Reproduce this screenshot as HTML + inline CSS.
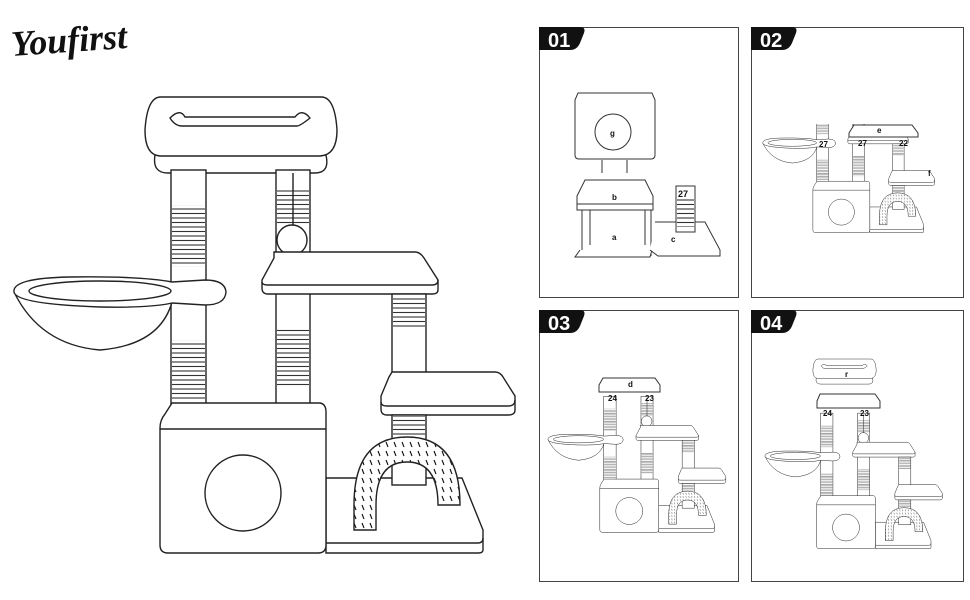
<!DOCTYPE html>
<html><head><meta charset="utf-8"><style>
html,body{margin:0;padding:0;background:#fff;}
svg{display:block}
</style></head><body>
<svg width="970" height="600" viewBox="0 0 970 600" xmlns="http://www.w3.org/2000/svg">
<defs>
<pattern id="bands" width="6" height="4.5" patternUnits="userSpaceOnUse">
<rect width="6" height="4.5" fill="#fff"/><line x1="0" y1="2" x2="6" y2="2" stroke="#333" stroke-width="1.1"/>
</pattern>
<pattern id="bristle" width="8" height="9" patternUnits="userSpaceOnUse">
<rect width="8" height="9" fill="#fff"/><line x1="2" y1="1" x2="4" y2="6" stroke="#111" stroke-width="1.1"/>
</pattern>
<clipPath id="c2"><rect x="752" y="124" width="211" height="173"/></clipPath>
<g id="bed" fill="#fff" stroke="#222" stroke-width="1.4">
<path d="M155 155 L326 155 Q330 173 315 173 L168 173 Q152 173 155 155Z"/>
<path d="M160 97 L322 97 Q335 98 337 130 Q337 155 320 156 L160 156 Q145 155 145 130 Q147 98 160 97Z"/>
<path d="M170 118 Q180 108 185 117 L295 117 Q302 108 310 118 Q300 126 297 126 L182 126 Q175 126 170 118Z"/>
</g>
<g id="body" fill="#fff" stroke="#222" stroke-width="1.4">
<rect x="171" y="170" width="35" height="245"/>
<rect x="172" y="205" width="33" height="62" fill="url(#bands)" stroke="none"/>
<rect x="172" y="340" width="33" height="60" fill="url(#bands)" stroke="none"/>
<rect x="276" y="170" width="34" height="245"/>
<rect x="277" y="190" width="32" height="35" fill="url(#bands)" stroke="none"/>
<rect x="277" y="328" width="32" height="60" fill="url(#bands)" stroke="none"/>
<line x1="293" y1="173" x2="293" y2="230"/>
<circle cx="292" cy="240" r="15"/>
<path d="M14 292 Q40 345 100 350 Q160 345 172 302"/>
<path d="M14 292 Q12 278 70 277 Q140 276 172 282 L205 280 Q225 280 226 292 Q225 305 205 305 L172 303 Q150 308 100 307 Q16 304 14 292Z"/>
<ellipse cx="100" cy="291" rx="71" ry="10"/>
<path d="M274 252 L415 252 Q420 252 424 258 L438 280 L438 290 Q438 294 432 294 L268 294 Q262 294 262 288 L262 280 L274 258Z"/>
<path d="M262 282 Q262 285 268 285 L432 285 Q438 285 438 280" fill="none"/>
<rect x="392" y="294" width="34" height="100"/>
<rect x="393" y="296" width="32" height="32" fill="url(#bands)" stroke="none"/>
<path d="M392 372 L495 372 Q500 372 503 377 L515 396 L515 410 Q515 415 508 415 L387 415 Q381 415 381 409 L381 396 L389 377Z"/>
<path d="M381 402 Q381 406 387 406 L508 406 Q515 406 515 400" fill="none"/>
<path d="M326 478 L462 478 L483 530 L483 550 Q483 553 478 553 L326 553Z"/>
<path d="M326 543 L478 543 Q483 543 483 538" fill="none"/>
<rect x="392" y="415" width="34" height="70"/>
<rect x="393" y="416" width="32" height="20" fill="url(#bands)" stroke="none"/>
<path d="M354 530 L354 505 Q354 437 407 437 Q460 437 460 505 L460 505 L438 505 Q438 462 407 462 Q376 462 376 505 L376 530Z" fill="url(#bristle)"/>
<path d="M172 403 L320 403 Q326 404 326 412 L326 545 Q326 553 318 553 L168 553 Q160 553 160 545 L160 428 Q160 420 165 414Z"/>
<line x1="160" y1="429" x2="326" y2="429"/>
<circle cx="243" cy="493" r="38"/>
</g>
</defs>

<text x="12" y="56" font-family="Liberation Serif, serif" font-style="italic" font-weight="bold" font-size="36" fill="#111" transform="rotate(-4 12 56)">Youfirst</text>

<use href="#bed"/>
<use href="#body"/>

<g fill="none" stroke="#444" stroke-width="1">
<rect x="539.5" y="27.5" width="199" height="270"/>
<rect x="751.5" y="27.5" width="212" height="270"/>
<rect x="539.5" y="310.5" width="199" height="271"/>
<rect x="751.5" y="310.5" width="212" height="271"/>
</g>
<g fill="#111">
<path d="M539 27 L580 27 Q586 27 584 33 L580 43 Q577 50 570 50 L539 50Z"/>
<path d="M751 27 L792 27 Q798 27 796 33 L792 43 Q789 50 782 50 L751 50Z"/>
<path d="M539 310 L580 310 Q586 310 584 316 L580 326 Q577 333 570 333 L539 333Z"/>
<path d="M751 310 L792 310 Q798 310 796 316 L792 326 Q789 333 782 333 L751 333Z"/>
</g>
<g fill="#fff" font-family="Liberation Sans, sans-serif" font-weight="bold" font-size="20">
<text x="548" y="47">01</text><text x="760" y="47">02</text>
<text x="548" y="330">03</text><text x="760" y="330">04</text>
</g>

<g fill="#fff" stroke="#333" stroke-width="1">
<path d="M578 93 L652 93 L655 100 L655 155 Q655 159 651 159 L579 159 Q575 159 575 155 L575 100Z"/>
<circle cx="613" cy="132" r="18"/>
<line x1="602" y1="160" x2="602" y2="173"/><line x1="627" y1="160" x2="627" y2="173"/>
<path d="M585 180 L645 180 L653 196 L653 210 L577 210 L577 196Z"/>
<line x1="577" y1="204" x2="653" y2="204"/>
<line x1="582" y1="210" x2="582" y2="256"/><line x1="590" y1="210" x2="590" y2="245"/>
<line x1="645" y1="210" x2="645" y2="245"/><line x1="651" y1="210" x2="651" y2="256"/>
<path d="M580 250 L575 257 L650 257 L652 250"/>
<path d="M655 222 L705 222 L720 250 L720 256 L658 256 L650 250"/>
<rect x="676" y="186" width="19" height="46"/>
<rect x="677" y="197" width="17" height="30" fill="url(#bands)" stroke="none"/>
</g>
<g font-family="Liberation Sans, sans-serif" font-weight="bold" fill="#111">
<text x="610" y="136" font-size="8">g</text>
<text x="612" y="200" font-size="8">b</text>
<text x="612" y="240" font-size="8">a</text>
<text x="671" y="242" font-size="8">c</text>
<text x="678" y="197" font-size="9">27</text>
</g>

<g clip-path="url(#c2)">
<use href="#body" transform="translate(758 43) scale(0.343)"/>
</g>
<g fill="#fff" stroke="#333" stroke-width="1">
<path d="M854 125 L912 125 L918 133 L918 137 L849 137 L849 133Z"/>
</g>
<g font-family="Liberation Sans, sans-serif" font-weight="bold" fill="#111" font-size="8">
<text x="877" y="133">e</text><text x="928" y="176">f</text>
<text x="819" y="147">27</text><text x="858" y="146">27</text><text x="899" y="146">22</text>
</g>

<use href="#body" transform="translate(543 336) scale(0.355)"/>
<g fill="#fff" stroke="#333" stroke-width="1">
<path d="M603 378 L655 378 L660 385 L660 392 L599 392 L599 385Z"/>
</g>
<g font-family="Liberation Sans, sans-serif" font-weight="bold" fill="#111" font-size="8">
<text x="628" y="387">d</text><text x="608" y="401">24</text><text x="645" y="401">23</text>
</g>

<use href="#bed" transform="translate(765 327) scale(0.33)"/>
<use href="#body" transform="translate(760 353) scale(0.354)"/>
<g fill="#fff" stroke="#333" stroke-width="1">
<path d="M820 394 L875 394 L880 401 L880 408 L817 408 L817 401Z"/>
</g>
<g font-family="Liberation Sans, sans-serif" font-weight="bold" fill="#111" font-size="8">
<text x="845" y="377">r</text><text x="823" y="416">24</text><text x="860" y="416">23</text>
</g>
</svg>
</body></html>
